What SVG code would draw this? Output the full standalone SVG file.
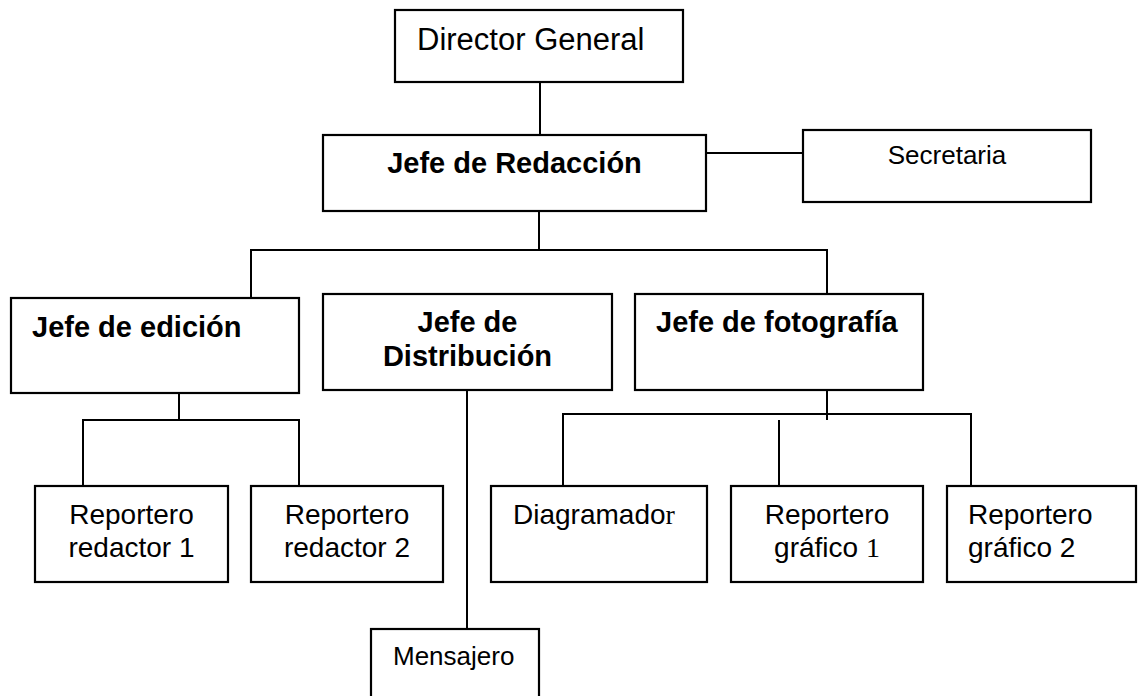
<svg xmlns="http://www.w3.org/2000/svg" width="1138" height="696" viewBox="0 0 1138 696">
<style>
rect{fill:#fff;stroke:#000;stroke-width:2.2}
.c line{stroke:#000;stroke-width:2}
text{font-family:"Liberation Sans",Arial,sans-serif;fill:#000}
.b{font-weight:bold;font-size:29px}
.n{font-size:28px}
.s{font-size:26px}
.serif{font-family:"Liberation Serif","Times New Roman",serif}
</style>
<rect x="0" y="0" width="1138" height="696" style="stroke:none;fill:#fff"/>
<g class="c" id="connectors">
<line x1="540" y1="82" x2="540" y2="135"/>
<line x1="706" y1="153" x2="803" y2="153"/>
<line x1="539" y1="211" x2="539" y2="250"/>
<line x1="250" y1="250" x2="828" y2="250"/>
<line x1="251" y1="249" x2="251" y2="298"/>
<line x1="827" y1="249" x2="827" y2="298"/>
<line x1="179" y1="393" x2="179" y2="420"/>
<line x1="82" y1="420" x2="300" y2="420"/>
<line x1="83" y1="419" x2="83" y2="486"/>
<line x1="299" y1="419" x2="299" y2="486"/>
<line x1="467" y1="390" x2="467" y2="629"/>
<line x1="827" y1="390" x2="827" y2="420"/>
<line x1="562" y1="414" x2="972" y2="414"/>
<line x1="563" y1="413" x2="563" y2="486"/>
<line x1="971" y1="413" x2="971" y2="486"/>
<line x1="779" y1="420" x2="779" y2="486"/>
</g>
<g id="director"><rect x="395" y="10" width="288" height="72"/><text x="417" y="50" style="font-size:31px">Director General</text></g>
<g id="redaccion"><rect x="323" y="135" width="383" height="76"/><text class="b" x="514.5" y="173" text-anchor="middle">Jefe de Redacción</text></g>
<g id="secretaria"><rect x="803" y="130" width="288" height="72"/><text class="s" x="947" y="164" text-anchor="middle">Secretaria</text></g>
<g id="edicion"><rect x="11" y="298" width="288" height="95"/><text class="b" x="32" y="337">Jefe de edición</text></g>
<g id="distribucion"><rect x="323" y="294" width="289" height="96"/><text class="b" x="467.5" y="332" text-anchor="middle">Jefe de</text><text class="b" x="467.5" y="366" text-anchor="middle">Distribución</text></g>
<g id="fotografia"><rect x="635" y="294" width="288" height="96"/><text class="b" x="656" y="332">Jefe de fotografía</text></g>
<g id="rr1"><rect x="35" y="486" width="193" height="96"/><text class="n" x="131.5" y="524" text-anchor="middle">Reportero</text><text class="n" x="131.5" y="557" text-anchor="middle">redactor 1</text></g>
<g id="rr2"><rect x="251" y="486" width="192" height="96"/><text class="n" x="347" y="524" text-anchor="middle">Reportero</text><text class="n" x="347" y="557" text-anchor="middle">redactor 2</text></g>
<g id="diagramador"><rect x="491" y="486" width="216" height="96"/><text class="n" x="513" y="524">Diagramado<tspan class="serif">r</tspan></text></g>
<g id="rg1"><rect x="731" y="486" width="192" height="96"/><text class="n" x="827" y="524" text-anchor="middle">Reportero</text><text class="n" x="827" y="557" text-anchor="middle">gráfico <tspan class="serif">1</tspan></text></g>
<g id="rg2"><rect x="947" y="486" width="189" height="96"/><text class="n" x="968" y="524">Reportero</text><text class="n" x="968" y="557">gráfico 2</text></g>
<g id="mensajero"><rect x="371" y="629" width="168" height="80"/><text class="s" x="393" y="665">Mensajero</text></g>
</svg>
